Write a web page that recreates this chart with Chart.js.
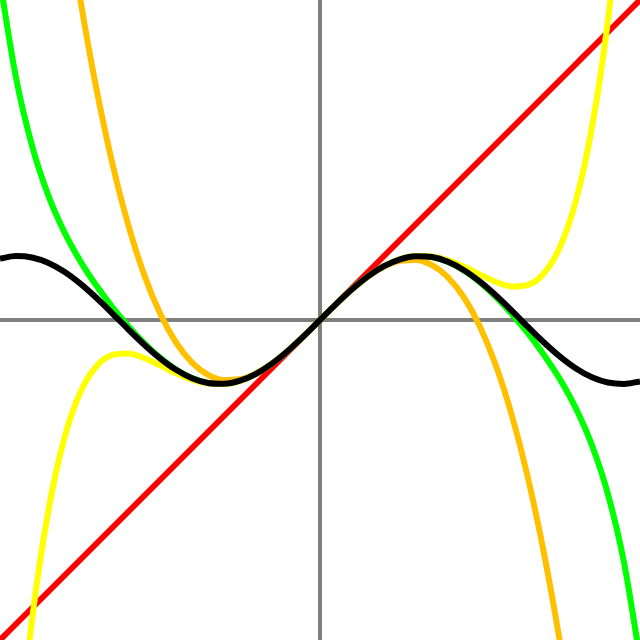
<!DOCTYPE html>
<html>
<head>
<meta charset="utf-8">
<script src="https://cdn.jsdelivr.net/npm/chart.js@4/dist/chart.umd.min.js"></script>
<style>
html,body{margin:0;padding:0;background:#fff;}
#wrap{width:640px;height:640px;}
</style>
</head>
<body>
<div id="wrap"><canvas id="c" width="640" height="640"></canvas></div>
<script>
const xValues = [-5,-4.75,-4.5,-4.25,-4,-3.75,-3.5,-3.25,-3,-2.75,-2.5,-2.25,-2,-1.75,-1.5,-1.25,-1,-0.75,-0.5,-0.25,
  0,0.25,0.5,0.75,1,1.25,1.5,1.75,2,2.25,2.5,2.75,3,3.25,3.5,3.75,4,4.25,4.5,4.75,5];

const sineValues = [0.9589,0.9993,0.9775,0.8950,0.7568,0.5716,0.3508,0.1082,-0.1411,-0.3817,-0.5985,-0.7781,-0.9093,-0.9840,-0.9975,-0.9490,-0.8415,-0.6816,-0.4794,-0.2474,
  0,0.2474,0.4794,0.6816,0.8415,0.9490,0.9975,0.9840,0.9093,0.7781,0.5985,0.3817,0.1411,-0.1082,-0.3508,-0.5716,-0.7568,-0.8950,-0.9775,-0.9993,-0.9589];

const linearValues = [-5,-4.75,-4.5,-4.25,-4,-3.75,-3.5,-3.25,-3,-2.75,-2.5,-2.25,-2,-1.75,-1.5,-1.25,-1,-0.75,-0.5,-0.25,
  0,0.25,0.5,0.75,1,1.25,1.5,1.75,2,2.25,2.5,2.75,3,3.25,3.5,3.75,4,4.25,4.5,4.75,5];

const cubicValues = [15.8333,13.1120,10.6875,8.5443,6.6667,5.0391,3.6458,2.4714,1.5,0.7161,0.1042,-0.3516,-0.6667,-0.8568,-0.9375,-0.9245,-0.8333,-0.6797,-0.4792,-0.2474,
  0,0.2474,0.4792,0.6797,0.8333,0.9245,0.9375,0.8568,0.6667,0.3516,-0.1042,-0.7161,-1.5,-2.4714,-3.6458,-5.0391,-6.6667,-8.5443,-10.6875,-13.1120,-15.8333];

const quinticValues = [-10.2083,-7.0386,-4.6898,-3.0105,-1.8667,-1.1408,-0.7310,-0.5502,-0.5250,-0.5945,-0.7096,-0.8321,-0.9333,-0.9936,-1.0008,-0.9499,-0.8417,-0.6816,-0.4794,-0.2474,
  0,0.2474,0.4794,0.6816,0.8417,0.9499,1.0008,0.9936,0.9333,0.8321,0.7096,0.5945,0.5250,0.5502,0.7310,1.1408,1.8667,3.0105,4.6898,7.0386,10.2083];

const septicValues = [5.2927,3.7863,2.7243,1.9585,1.3841,0.9283,0.5456,0.2097,-0.0911,-0.3585,-0.5885,-0.7742,-0.9079,-0.9836,-0.9974,-0.9490,-0.8415,-0.6816,-0.4794,-0.2474,
  0,0.2474,0.4794,0.6816,0.8415,0.9490,0.9974,0.9836,0.9079,0.7742,0.5885,0.3585,0.0911,-0.2097,-0.5456,-0.9283,-1.3841,-1.9585,-2.7243,-3.7863,-5.2927];

const seriesNames = ['sin x','x','x − x³/3!','x − x³/3! + x⁵/5!','x − x³/3! + x⁵/5! − x⁷/7!'];
const seriesColors = ['#000000','#ff0000','#ffc000','#ffff00','#00ff00'];

function pts(ys){ return xValues.map((x,i)=>({x:x,y:ys[i]})); }

const datasets = [
  {label:seriesNames[0], data:pts(sineValues), borderColor:seriesColors[0], order:1},
  {label:seriesNames[3], data:pts(quinticValues), borderColor:seriesColors[3], order:2},
  {label:seriesNames[2], data:pts(cubicValues), borderColor:seriesColors[2], order:3},
  {label:seriesNames[4], data:pts(septicValues), borderColor:seriesColors[4], order:4},
  {label:seriesNames[1], data:pts(linearValues), borderColor:seriesColors[1], order:5}
].map(d=>Object.assign(d,{borderWidth:6,pointRadius:0,fill:false,cubicInterpolationMode:'monotone',clip:0}));

const axisGrid = {
  drawTicks:false,
  lineWidth:(ctx)=> (ctx.tick && ctx.tick.value===0) ? 4 : 0,
  color:(ctx)=> (ctx.tick && ctx.tick.value===0) ? '#808080' : 'rgba(0,0,0,0)'
};

new Chart(document.getElementById('c'), {
  type:'line',
  data:{datasets:datasets},
  options:{
    responsive:false,
    animation:false,
    layout:{padding:0},
    plugins:{legend:{display:false},tooltip:{enabled:false}},
    scales:{
      x:{type:'linear',min:-5,max:5,ticks:{display:false,stepSize:5},border:{display:false},grid:axisGrid},
      y:{type:'linear',min:-5,max:5,ticks:{display:false,stepSize:5},border:{display:false},grid:axisGrid}
    }
  }
});
</script>
</body>
</html>
